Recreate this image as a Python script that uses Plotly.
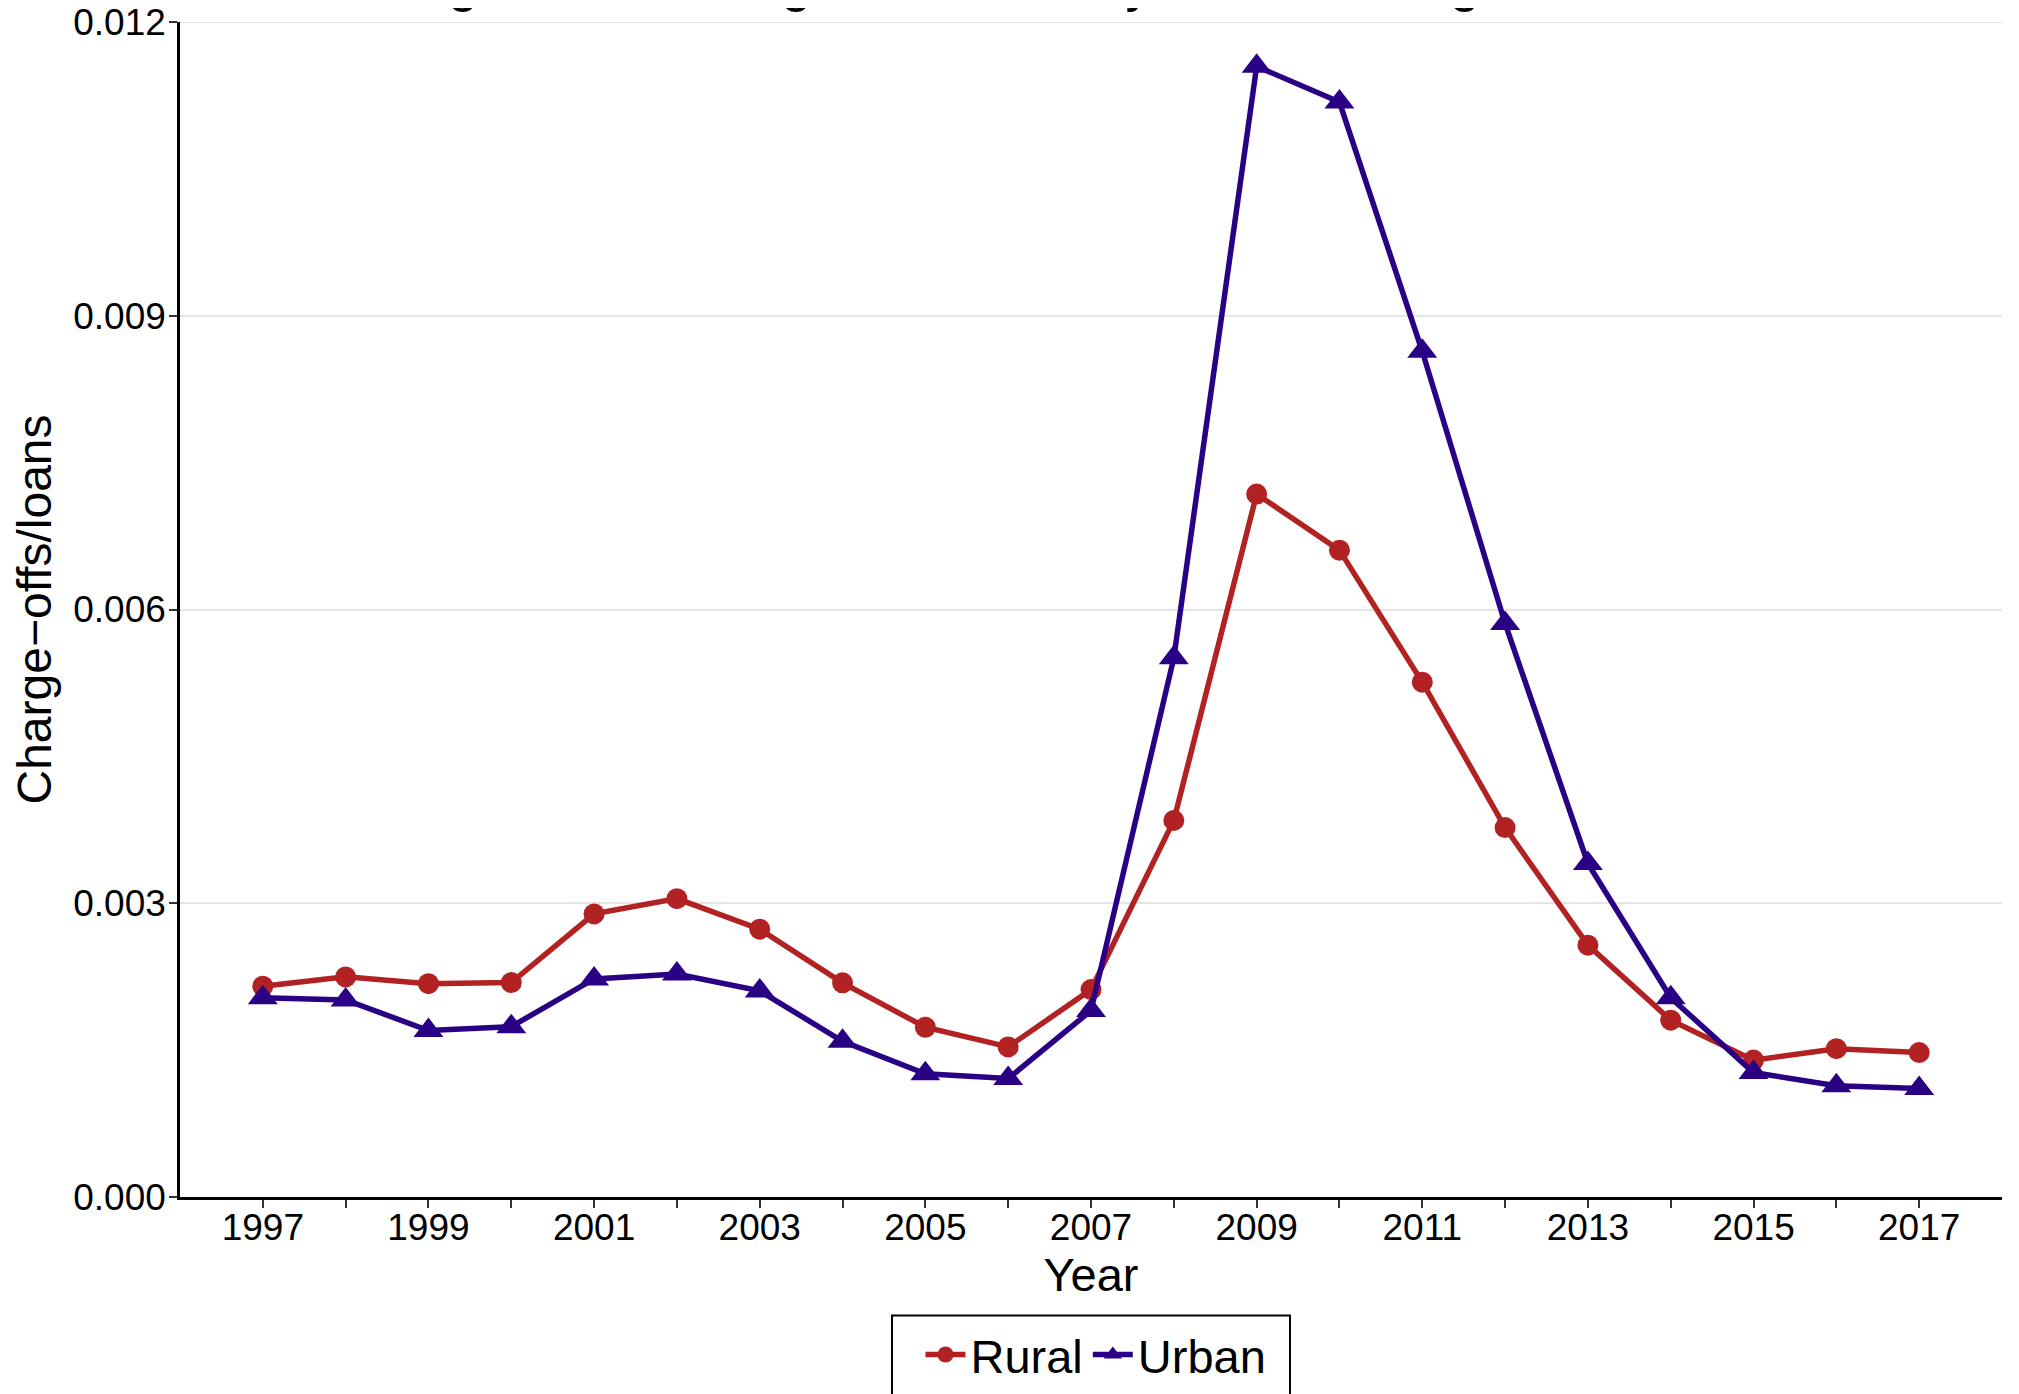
import plotly.graph_objects as go

years = list(range(1997, 2018))
rural = [0.002152, 0.002248, 0.002179, 0.002190, 0.002891, 0.003047, 0.002735,
         0.002187, 0.001734, 0.001533, 0.002118, 0.003846, 0.007179, 0.006606,
         0.005258, 0.003773, 0.002572, 0.001806, 0.001398, 0.001515, 0.001475]
urban = [0.002036, 0.002013, 0.001700, 0.001740, 0.002227, 0.002278, 0.002105,
         0.001590, 0.001258, 0.001210, 0.001904, 0.005507, 0.011547, 0.011182,
         0.008637, 0.005857, 0.003406, 0.002035, 0.001271, 0.001136, 0.001108]
y_ticks = [0.000, 0.003, 0.006, 0.009, 0.012]
y_ticktext = ["0.000", "0.003", "0.006", "0.009", "0.012"]
x_ticktext = [str(y) if y % 2 == 1 else "" for y in years]

W, H = 2019, 1394
OFF = 8  # default page body margin
L, R, T, B = 172, 25, 14, 204.5
pw, ph = W - L - R, H - T - B


def px_x(page):
    return (page - OFF - L) / pw


def px_y(page):
    return (H - B - (page - OFF)) / ph


FONT = "Liberation Sans, Arial, Helvetica, sans-serif"
RED = "#B22222"
NAVY = "#2A0185"
GRID = "#E5E5E5"

fig = go.Figure()
fig.add_trace(go.Scatter(
    x=years, y=rural, name="Rural", mode="lines+markers",
    line=dict(color=RED, width=5.5),
    marker=dict(symbol="circle", size=21, color=RED),
))
fig.add_trace(go.Scatter(
    x=years, y=urban, name="Urban", mode="lines+markers",
    line=dict(color=NAVY, width=5.5),
    marker=dict(symbol="triangle-up", size=26, color=NAVY),
))

fig.update_layout(
    width=W, height=H,
    margin=dict(l=L, r=R, t=T, b=B, autoexpand=False),
    paper_bgcolor="white", plot_bgcolor="white",
    font=dict(family=FONT, color="black"),
    showlegend=True,
    legend=dict(
        orientation="h", x=px_x(1096), xanchor="center",
        y=px_y(1318), yanchor="top", itemwidth=40,
        font=dict(size=47, family=FONT, color="black"),
        bgcolor="rgba(0,0,0,0)", borderwidth=0,
    ),
    xaxis=dict(
        range=[1996, 2018], tickmode="array", tickvals=years, ticktext=x_ticktext,
        showgrid=False, zeroline=False,
        showline=True, linecolor="black", linewidth=2.5,
        ticks="outside", ticklen=8, tickwidth=2, tickcolor="#333333",
        ticklabelstandoff=-12, ticklabeloverflow="allow",
        tickfont=dict(size=37, family=FONT, color="black"),
        title=dict(text="Year", font=dict(size=47, family=FONT, color="black"), standoff=6),
    ),
    yaxis=dict(
        range=[0, 0.012], tickmode="array", tickvals=y_ticks, ticktext=y_ticktext,
        showgrid=True, gridcolor=GRID, gridwidth=2, zeroline=False,
        showline=True, linecolor="black", linewidth=2.5,
        ticks="outside", ticklen=8, tickwidth=2, tickcolor="#333333",
        ticklabelstandoff=-4, ticklabeloverflow="allow",
        tickfont=dict(size=37, family=FONT, color="black"),
        title=dict(text="Charge\u2212offs/loans", font=dict(size=48, family=FONT, color="black"), standoff=9),
    ),
    shapes=[
        dict(
            type="line", xref="paper", yref="y",
            x0=0, x1=1, y0=y_ticks[-1], y1=y_ticks[-1],
            line=dict(color=GRID, width=2), layer="below",
        ),
        dict(
            type="rect", xref="paper", yref="paper",
            x0=px_x(892), x1=px_x(1290), y0=px_y(1316), y1=px_y(1440),
            line=dict(color="black", width=2), fillcolor="rgba(0,0,0,0)", layer="above",
        ),
    ],
    annotations=[dict(
        text="Average Loan Charge-off Rates by Bank Setting",
        xref="paper", yref="paper", x=px_x(303), y=px_y(13.7),
        xanchor="left", yanchor="bottom", showarrow=False,
        font=dict(size=55, family=FONT, color="black"),
    )],
)

fig.write_html("out.html")
